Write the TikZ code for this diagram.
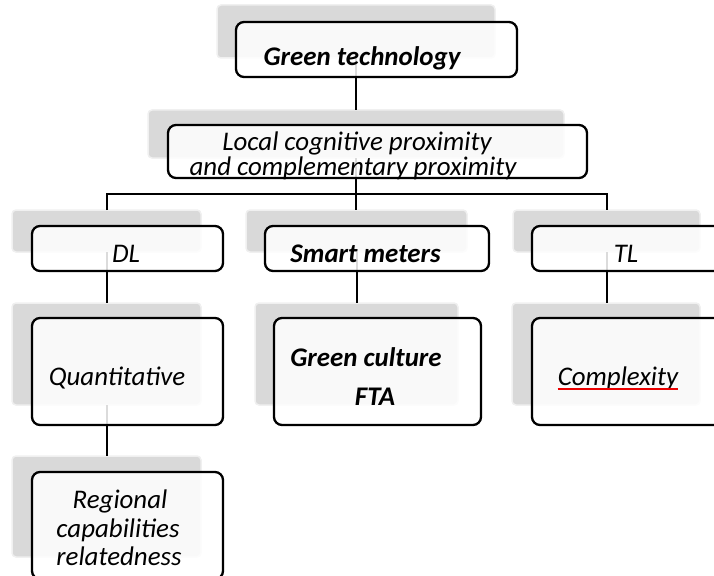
\documentclass[tikz,border=0pt]{standalone}
\usepackage{fontspec}
\setmainfont{Carlito}
\definecolor{shgray}{RGB}{217,217,217}
\definecolor{shedge}{RGB}{240,240,240}
\definecolor{ulred}{RGB}{235,0,0}
\begin{document}
\begin{tikzpicture}[x=1pt,y=-1pt,
  shad/.style={fill=shgray, draw=shedge, line width=1.5pt, rounded corners=4pt, inner sep=0pt, outer sep=0pt},
  wbox/.style={fill=white, fill opacity=0.86, draw=black, line width=2.3pt, rounded corners=8pt, inner sep=0pt, outer sep=0pt},
  conn/.style={draw=black, line width=2pt},
  it/.style={font=\fontsize{26.9}{29}\selectfont\itshape, anchor=base, inner sep=0pt},
  bi/.style={font=\fontsize{26.9}{29}\selectfont\bfseries\itshape, anchor=base, inner sep=0pt}]
\useasboundingbox (0,0) rectangle (714,575);
\clip (0,0) rectangle (714,575);
% shadows
\node[shad, minimum width=278pt, minimum height=53pt] (s1) at (356,31.5) {};
\node[shad, minimum width=416pt, minimum height=48pt] (s2) at (356,134) {};
\node[shad, minimum width=189pt, minimum height=42pt] (s3a) at (106.5,231) {};
\node[shad, minimum width=221pt, minimum height=42pt] (s3b) at (356.5,231) {};
\node[shad, minimum width=187pt, minimum height=42pt] (s3c) at (606.5,231) {};
\node[shad, minimum width=189pt, minimum height=102pt] (s4a) at (106.5,354) {};
\node[shad, minimum width=203pt, minimum height=102pt] (s4b) at (356.5,354) {};
\node[shad, minimum width=188pt, minimum height=102pt] (s4c) at (606,354) {};
\node[shad, minimum width=189pt, minimum height=101pt] (s5) at (106.5,506.5) {};
\coordinate (bus) at (0,194);
% connectors
\draw[conn] (s1.south) -- (s1.south |- s2.north);
\draw[conn] (s2.south) -- (s2.south |- s3b.north);
\draw[conn] (s3a.north) -- (s3a.north |- bus) -- (s3c.north |- bus) -- (s3c.north);
\draw[conn] (s3a.south) -- (s4a.north);
\draw[conn] (s3b.south) -- (s4b.north);
\draw[conn] (s3c.south) -- (s3c.south |- s4c.north);
\draw[conn] (s4a.south) -- (s5.north);
% boxes
\node[wbox, minimum width=281pt, minimum height=55pt] (b1) at (376.5,49.5) {};
\node[wbox, minimum width=419pt, minimum height=53pt] (b2) at (377.5,151.5) {};
\node[wbox, minimum width=191pt, minimum height=45pt] (b3a) at (127.5,248.5) {};
\node[wbox, minimum width=224pt, minimum height=45pt] (b3b) at (377,248.5) {};
\node[wbox, minimum width=191pt, minimum height=45pt] (b3c) at (627.5,248.5) {};
\node[wbox, minimum width=191pt, minimum height=107pt] (b4a) at (127.5,371.5) {};
\node[wbox, minimum width=207pt, minimum height=107pt] (b4b) at (377.5,371.5) {};
\node[wbox, minimum width=191pt, minimum height=107pt] (b4c) at (627.5,371.5) {};
\node[wbox, minimum width=191pt, minimum height=107pt] (b5) at (127.5,525.5) {};
% texts
\node[bi] (t1) at (362,66) {Green technology};
\node[it] (t2a) at (357,150) {Local cognitive proximity};
\node[it] (t2b) at (353,175) {and complementary proximity};
\node[it] (t3a) at (126,262) {DL};
\node[bi] (t3b) at (365.5,262) {Smart meters};
\node[it] (t3c) at (626,262) {TL};
\node[it] (t4a) at (117,385) {Quantitative};
\node[bi] (t4b1) at (366,366) {Green culture};
\node[bi] (t4b2) at (375,405) {FTA};
\node[it] (t4c) at (618,385) {Complexity};
\node[it] (t5a) at (120,508) {Regional};
\node[it] (t5b) at (118,537) {capabilities};
\node[it] (t5c) at (119,565) {relatedness};
\draw[ulred, line width=1.6pt] ([yshift=-4pt]t4c.base west) -- ([yshift=-4pt]t4c.base east);
\end{tikzpicture}
\end{document}
